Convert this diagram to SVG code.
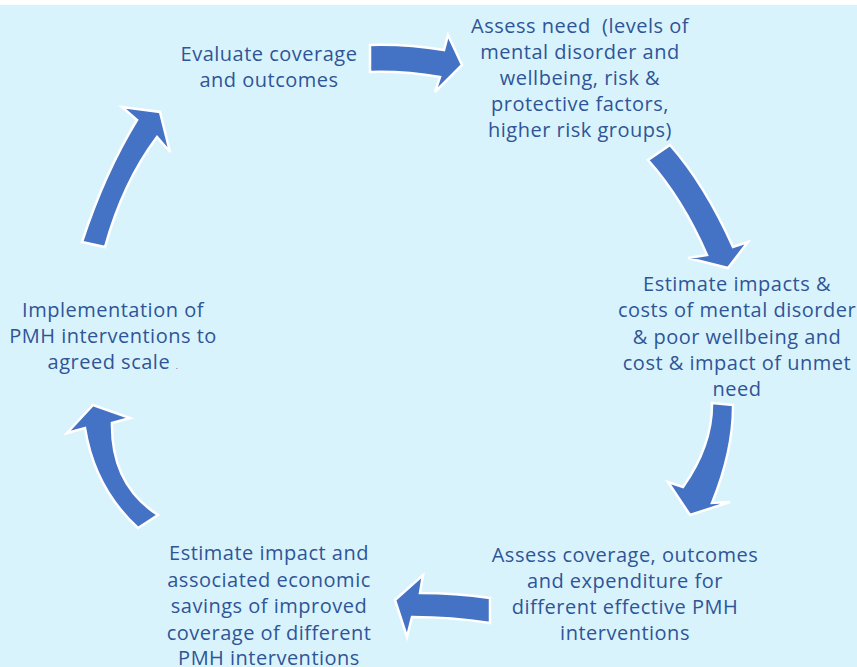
<svg xmlns="http://www.w3.org/2000/svg" width="857" height="667" viewBox="0 0 857 667">
<style>
.t{font-family:"Open Sans","Noto Sans",sans-serif;font-size:20px;letter-spacing:0.5px;fill:#2F5597;text-anchor:middle}
.a{fill:#4472C4;stroke:#FFFFFF;stroke-width:2.5;stroke-linejoin:miter}
</style>
<rect x="0" y="0" width="857" height="667" fill="#FFFFFF"/>
<rect x="0" y="5" width="857" height="662" fill="#D9F3FD"/>
<g id="connectors">
<path class="a" d="M370,45 Q407,44 444,50 L448,35 L462,65 L435,92 L440,77 Q405,71 370,72 Z"/>
<path class="a" d="M648,160 L670,145 Q704.5,184 733,247 L748,242 L728,268 L688,258 L707,255 Q682.5,198.5 648,160 Z"/>
<path class="a" d="M712,403 L733,405 Q733.5,450 712,503 L730,502 L690,515 L668,482 L683,487 Q712.5,445 712,403 Z"/>
<path class="a" d="M490,598 Q455,593 420,593 L423,575 L395,600 L407,637 L412,617 Q452,617 490,623 Z"/>
<path class="a" d="M138,528 L158,515 Q111,485 112,423 L130,418 L93,405 L67,433 L85,428 Q94.5,488 138,528 Z"/>
<path class="a" d="M82,242 Q104.5,173 137,120 L122,107 L160,112 L170,152 L157,137 Q123,182 105,247 Z"/>
</g>
<g id="n1"><text class="t" x="269" y="61">Evaluate coverage</text><text class="t" x="269" y="87">and outcomes</text></g>
<g id="n2"><text class="t" x="580" y="33" xml:space="preserve">Assess need  (levels of</text><text class="t" x="580" y="59">mental disorder and</text><text class="t" x="580" y="85">wellbeing, risk &amp;</text><text class="t" x="580" y="111">protective factors,</text><text class="t" x="580" y="137">higher risk groups)</text></g>
<g id="n3"><text class="t" x="737" y="291">Estimate impacts &amp;</text><text class="t" x="737" y="317">costs of mental disorder</text><text class="t" x="737" y="344">&amp; poor wellbeing and</text><text class="t" x="737" y="370">cost &amp; impact of unmet</text><text class="t" x="737" y="396">need</text></g>
<g id="n4"><text class="t" x="625" y="562">Assess coverage, outcomes</text><text class="t" x="625" y="588">and expenditure for</text><text class="t" x="625" y="614">different effective PMH</text><text class="t" x="625" y="640">interventions</text></g>
<g id="n5"><text class="t" x="269" y="560">Estimate impact and</text><text class="t" x="269" y="587">associated economic</text><text class="t" x="269" y="613">savings of improved</text><text class="t" x="269" y="640">coverage of different</text><text class="t" x="269" y="665">PMH interventions</text></g>
<g id="n6"><text class="t" x="113" y="317">Implementation of</text><text class="t" x="113" y="343">PMH interventions to</text><text class="t" x="113" y="369">agreed scale <tspan font-size="8">.</tspan></text></g>
</svg>
